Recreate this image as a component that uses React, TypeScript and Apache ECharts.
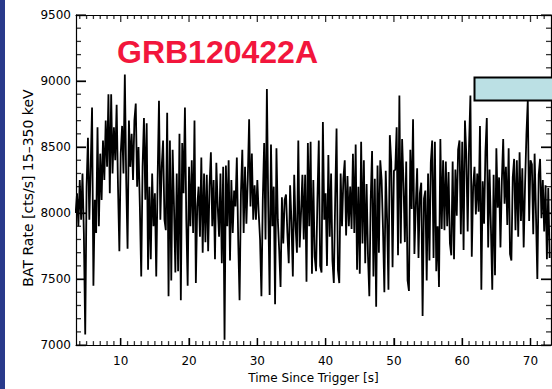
import React, { useEffect, useRef } from "react";
import * as echarts from "echarts";

// Light-curve bins (s) and BAT rate (cts/s, 15–350 keV)
const T0 = 3.4;
const DT = 0.2;

const rateSeg1 = [
  8000, 8150, 7900, 8250, 7950, 8300, 7850, 7080, 8200, 8570, 7950, 8350, 8800, 7450, 8100, 7850, 8650, 7900, 8450, 8100,
  8550, 8250, 8700, 8350, 8900, 8150, 8900, 8300, 8650, 8400, 8820, 8200, 7710, 8450, 8660, 8300, 9050, 8250, 7730, 8700,
  8350, 8600, 8250, 8700, 8830, 8200, 8500, 8050, 7520, 8350, 8720, 8100, 8680, 7570, 8200, 7650, 8300, 7900,
];
const rateSeg2 = [
  8150, 7520, 8250, 8850, 7950, 8350, 8550, 7950, 7870, 8760, 7370, 8550, 7490, 8480, 8050, 7550, 8300, 7560, 8600, 7340,
  8530, 8150, 8800, 7950, 7450, 8350, 7900, 8400, 7850, 8700, 7470, 8050, 8200, 7820, 8420, 7700, 8300, 7780, 8290, 7710,
  8200, 8460, 7900, 8250, 7650, 8380, 8050, 7820, 8300, 7620, 8350, 7040, 8360, 7900, 8400, 7640, 8250, 7850, 8170,
];
const rateSeg3 = [
  8050, 8420, 7800, 7340, 8150, 8480, 7850, 8350, 7920, 8250, 8710, 8050, 8450, 7950, 8210, 7950, 8250, 8000, 7800, 7370,
  8100, 8530, 7800, 8940, 8050, 7380, 8520, 7900, 8200, 7310, 8490, 7950, 7720, 7440, 8120, 7770, 8100, 8140, 7850, 7620,
  8210, 7930, 7520, 8290, 7900, 7700, 8550, 7740, 8000, 8290, 7800, 8290, 7480, 8530, 7900, 8540, 7540, 8250, 7670,
];
const rateSeg4 = [
  7560, 8100, 8550, 7600, 7550, 8690, 7950, 8150, 7600, 8440, 7820, 8300, 7640, 7470, 8100, 8640, 7570, 7470, 8300, 7900,
  8260, 8400, 7830, 8280, 7900, 8200, 7880, 8450, 7850, 8520, 7570, 8200, 7540, 8540, 7770, 8400, 7620, 8220, 7680, 7370,
  8100, 8470, 7520, 8260, 7290, 8360, 7700, 8400, 8250, 7880, 7400, 8320, 7950, 7420, 8590, 8390, 7590, 8320, 8330,
];
const rateSeg5 = [
  8650, 7680, 8890, 7770, 8560, 8230, 7780, 8390, 7490, 7410, 8480, 8030, 8710, 7690, 8050, 8340, 7660, 8150, 8230, 7220,
  8110, 8170, 7490, 8300, 7640, 8380, 8550, 7660, 8540, 7560, 7900, 7440, 8560, 7880, 8400, 7870, 8390, 7900, 8310, 7770,
  7680, 8390, 7650, 8330, 7980, 8480, 8550, 7840, 8540, 7720, 8700, 8440, 7860, 8510, 8890, 7670, 8200, 8350,
];
const rateSeg6 = [
  7990, 8300, 8010, 8660, 7420, 8240, 7920, 8460, 8720, 7740, 8330, 7900, 7420, 8290, 7530, 8490, 8040, 8270, 7740, 8240,
  8560, 8070, 8350, 7910, 8490, 7690, 7640, 8270, 8410, 7870, 8400, 7820, 8460, 7940, 8340, 7740, 8210, 8590, 8850, 7940,
  8400, 8370, 7840, 8450, 7990, 7500, 8290, 8410, 7960, 8250, 7860, 8210, 7650, 8190, 7660,
];

const rates = [...rateSeg1, ...rateSeg2, ...rateSeg3, ...rateSeg4, ...rateSeg5, ...rateSeg6];
const times = rates.map((_, i) => +(T0 + i * DT).toFixed(2));

// Axis ticks
const xMajorTicks = [10, 20, 30, 40, 50, 60, 70];
const xMinorTicks = [
  4, 5, 6, 7, 8, 9, 10, 11, 12, 13, 14, 15, 16, 17, 18, 19, 20, 21, 22, 23, 24, 25, 26, 27, 28, 29, 30, 31, 32, 33, 34, 35,
  36, 37, 38, 39, 40, 41, 42, 43, 44, 45, 46, 47, 48, 49, 50, 51, 52, 53, 54, 55, 56, 57, 58, 59, 60, 61, 62, 63, 64, 65,
  66, 67, 68, 69, 70, 71, 72,
];
const yTicks = [
  7000, 7100, 7200, 7300, 7400, 7500, 7600, 7700, 7800, 7900, 8000, 8100, 8200, 8300, 8400, 8500, 8600, 8700, 8800, 8900,
  9000, 9100, 9200, 9300, 9400, 9500,
];
const yMin = 7000;
const yMax = 9500;
const yStep = 500;
const xMin = 3.45;
const xMax = 73;

const titleText = "GRB120422A";
const xName = "Time Since Trigger [s]";
const yName = "BAT Rate [cts/s] 15\u2013350 keV";

const FONT = "DejaVu Sans";

export default function App() {
  const ref = useRef<HTMLDivElement>(null);

  useEffect(() => {
    if (!ref.current) return;
    document.body.style.margin = "0";
    const chart = echarts.init(ref.current, undefined, { renderer: "svg" });

    // inward tick marks, placed through the axes' scales
    const tickItems: any[] = [];
    xMinorTicks.forEach((v) => {
      const len = v % 10 === 0 ? 7 : 4;
      tickItems.push({ value: [v, yMin], symbolSize: [1.3, len], symbolOffset: [0, -len / 2] });
      tickItems.push({ value: [v, yMax], symbolSize: [1.3, len], symbolOffset: [0, len / 2] });
    });
    yTicks.forEach((v) => {
      const len = v % 500 === 0 ? 10 : 5;
      tickItems.push({ value: [xMin, v], symbolSize: [len, 1.3], symbolOffset: [len / 2, 0] });
      tickItems.push({ value: [xMax, v], symbolSize: [len, 1.3], symbolOffset: [-len / 2, 0] });
    });

    chart.setOption({
      animation: false,
      backgroundColor: "#ffffff",
      grid: { left: 76, right: 1, top: 15, bottom: 40, containLabel: false },
      xAxis: [
        {
          type: "value",
          min: xMin,
          max: xMax,
          position: "bottom",
          splitLine: { show: false },
          name: xName,
          nameLocation: "middle",
          nameGap: 23,
          nameTextStyle: { fontFamily: FONT, fontSize: 12, color: "#000" },
          axisLine: { show: true, onZero: false, lineStyle: { color: "#000", width: 1.2 } },
          axisTick: { show: true, inside: true, length: 7, customValues: xMajorTicks, lineStyle: { color: "#000", width: 1.3 } },
          axisLabel: { show: true, customValues: xMajorTicks, margin: 10, fontFamily: FONT, fontSize: 12, color: "#000" },
        },
        {
          type: "value",
          min: xMin,
          max: xMax,
          position: "top",
          splitLine: { show: false },
          axisLine: { show: true, onZero: false, lineStyle: { color: "#000", width: 1.2 } },
          axisTick: { show: false },
          axisLabel: { show: false },
        },
      ],
      yAxis: [
        {
          type: "value",
          position: "left",
          min: yMin,
          max: yMax,
          interval: yStep,
          splitLine: { show: false },
          axisLine: { show: true, onZero: false, lineStyle: { color: "#000", width: 1.2 } },
          axisTick: { show: true, inside: true, length: 10, lineStyle: { color: "#000", width: 1.3 } },
          axisLabel: {
            margin: 5,
            fontFamily: FONT,
            fontSize: 12,
            color: "#000",
            formatter: (v: number) => String(v),
          },
        },
        {
          type: "value",
          position: "right",
          min: yMin,
          max: yMax,
          interval: yStep,
          splitLine: { show: false },
          axisLine: { show: true, onZero: false, lineStyle: { color: "#000", width: 1.2 } },
          axisTick: { show: true, inside: true, length: 10, lineStyle: { color: "#000", width: 1.3 } },
          axisLabel: { show: false },
        },
      ],
      graphic: [
        {
          type: "rect",
          shape: { x: 0, y: 0, width: 5, height: 389 },
          style: { fill: "#293a8b" },
          z: 10,
        },
        {
          type: "rect",
          shape: { x: 474.5, y: 77.5, width: 100, height: 23 },
          style: { fill: "#bbe0e4", stroke: "#000", lineWidth: 2 },
          z: 10,
        },
        {
          type: "text",
          x: 117,
          y: 51.5,
          style: {
            text: titleText,
            fill: "#f2163c",
            font: "bold 32px 'Liberation Sans', Arial, sans-serif",
            textAlign: "left",
            textVerticalAlign: "middle",
          },
          z: 10,
        },
        {
          type: "text",
          x: 28,
          y: 188,
          rotation: Math.PI / 2,
          style: {
            text: yName,
            fill: "#000",
            font: "14px 'DejaVu Sans'",
            textAlign: "center",
            textVerticalAlign: "middle",
          },
          z: 10,
        },
      ],
      series: [
        {
          type: "line",
          xAxisIndex: 0,
          yAxisIndex: 0,
          data: times.map((t, i) => [t, rates[i]]),
          showSymbol: false,
          symbol: "none",
          clip: true,
          lineStyle: { color: "#000", width: 1.8 },
          z: 2,
        },
        {
          type: "scatter",
          xAxisIndex: 0,
          yAxisIndex: 0,
          clip: false,
          symbol: "rect",
          itemStyle: { color: "#000" },
          z: 5,
          data: tickItems,
        },
      ],
    });

    return () => chart.dispose();
  }, []);

  return (
    <div
      ref={ref}
      style={{ position: "absolute", left: 0, top: 0, width: 552, height: 389, background: "#fff" }}
    />
  );
}
